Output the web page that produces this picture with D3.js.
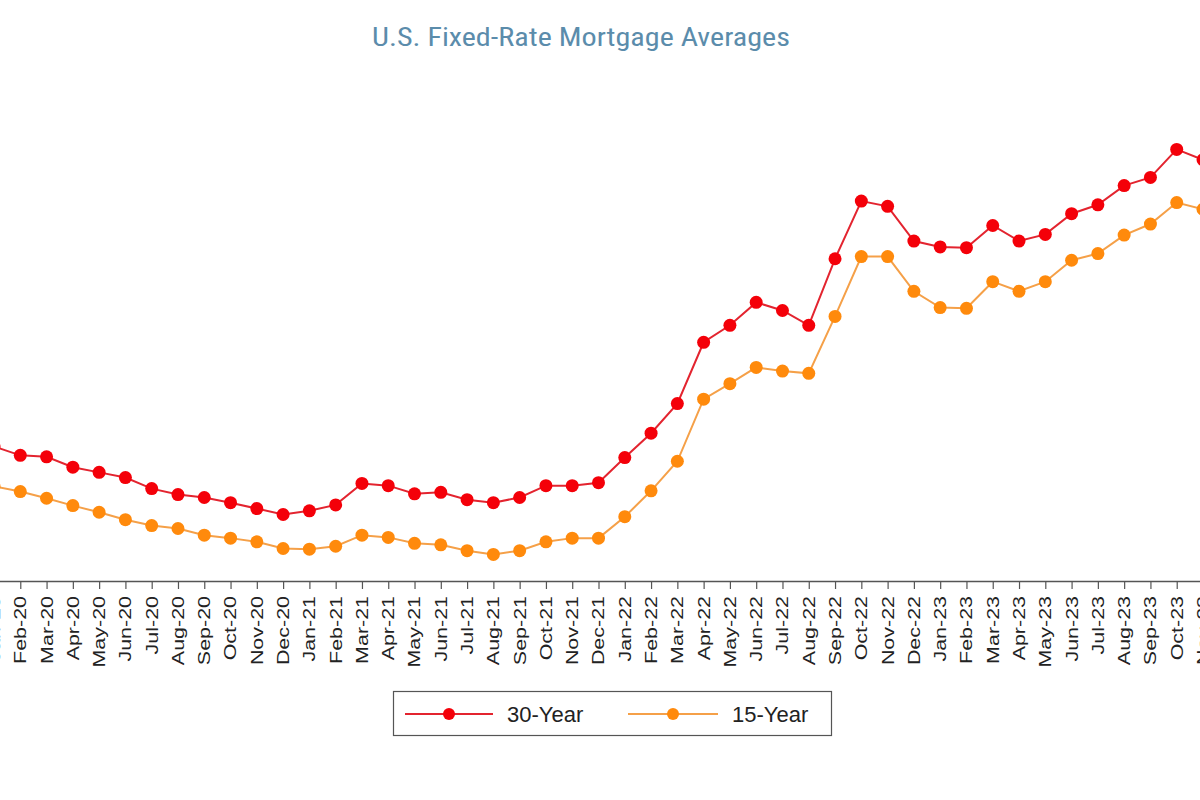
<!DOCTYPE html>
<html>
<head>
<meta charset="utf-8">
<script src="https://cdn.jsdelivr.net/npm/d3@7"></script>
<style>
  html, body { margin: 0; padding: 0; background: #fff; overflow: hidden; }
  svg { display: block; }
</style>
</head>
<body>
<svg id="chart" width="1200" height="800"></svg>
<script>
const months = [
  "Jan-20","Feb-20","Mar-20","Apr-20","May-20","Jun-20","Jul-20","Aug-20","Sep-20","Oct-20","Nov-20","Dec-20",
  "Jan-21","Feb-21","Mar-21","Apr-21","May-21","Jun-21","Jul-21","Aug-21","Sep-21","Oct-21","Nov-21","Dec-21",
  "Jan-22","Feb-22","Mar-22","Apr-22","May-22","Jun-22","Jul-22","Aug-22","Sep-22","Oct-22","Nov-22","Dec-22",
  "Jan-23","Feb-23","Mar-23","Apr-23","May-23","Jun-23","Jul-23","Aug-23","Sep-23","Oct-23","Nov-23"
];
const rate30 = [
  3.60,3.48,3.46,3.32,3.25,3.18,3.03,2.95,2.91,2.84,2.76,2.68,
  2.73,2.81,3.10,3.07,2.96,2.98,2.88,2.84,2.91,3.07,3.07,3.11,
  3.45,3.78,4.18,5.01,5.24,5.55,5.44,5.24,6.14,6.92,6.85,6.38,
  6.30,6.29,6.59,6.38,6.47,6.75,6.87,7.13,7.24,7.62,7.48
];
const rate15 = [
  3.06,2.99,2.90,2.80,2.71,2.61,2.53,2.49,2.40,2.36,2.31,2.22,
  2.21,2.25,2.40,2.37,2.29,2.27,2.19,2.14,2.19,2.31,2.36,2.36,
  2.65,3.00,3.40,4.24,4.45,4.67,4.62,4.59,5.36,6.17,6.17,5.70,
  5.48,5.47,5.83,5.70,5.83,6.12,6.21,6.46,6.61,6.90,6.81
];
const seriesNames = ["30-Year","15-Year"];
const titleText = "U.S. Fixed-Rate Mortgage Averages";

const svg = d3.select("#chart");
const axisY = 581;

const x = d3.scalePoint().domain(months).range([-6, 1203]);
const y = d3.scaleLinear().domain([1.78, 8.0]).range([axisY, 121.3]);

// Title
svg.append("text")
  .attr("x", 581).attr("y", 46)
  .attr("text-anchor", "middle")
  .attr("textLength", 418)
  .attr("lengthAdjust", "spacingAndGlyphs")
  .style("font-family", "'Liberation Sans Narrow','Roboto Condensed','DejaVu Sans Condensed',Roboto,sans-serif")
  .style("font-size", "26px")
  .style("fill", "#5b8cab")
  .text(titleText);

// X axis
const xAxis = d3.axisBottom(x).tickSize(8).tickSizeOuter(0).tickFormat("");
const gx = svg.append("g").attr("transform", `translate(0,${axisY})`).call(xAxis);
gx.select(".domain").attr("stroke", "#555").attr("stroke-width", 1.5);
gx.selectAll(".tick line").attr("stroke", "#555").attr("stroke-width", 1.2);

svg.append("g").selectAll("text.lbl")
  .data(months)
  .join("text")
  .attr("class", "lbl")
  .attr("transform", d => `translate(${x(d)},${axisY + 15}) rotate(-90) scale(1.3,1)`)
  .attr("text-anchor", "end")
  .attr("dy", "0.36em")
  .style("font-family", "'Liberation Sans',Arial,sans-serif")
  .style("font-size", "16.5px")
  .style("fill", "#222")
  .text(d => d);

const series = [
  { name: seriesNames[0], values: rate30, line: "#e3242f", fill: "#f40009" },
  { name: seriesNames[1], values: rate15, line: "#f5a048", fill: "#ff8a0c" }
];

const line = d3.line().x((d, i) => x(months[i])).y(d => y(d));

series.forEach(s => {
  const g = svg.append("g");
  g.append("path")
    .datum(s.values)
    .attr("fill", "none")
    .attr("stroke", s.line)
    .attr("stroke-width", 2)
    .attr("d", line);
  g.selectAll("circle")
    .data(s.values)
    .join("circle")
    .attr("cx", (d, i) => x(months[i]))
    .attr("cy", d => y(d))
    .attr("r", 6.5)
    .attr("fill", s.fill);
});

// Legend
const lg = svg.append("g");
lg.append("rect")
  .attr("x", 393.5).attr("y", 691.5)
  .attr("width", 438).attr("height", 44)
  .attr("fill", "#fff")
  .attr("stroke", "#555")
  .attr("stroke-width", 1.2);

const legendItems = [
  { s: series[0], x0: 405, x1: 493, tx: 507 },
  { s: series[1], x0: 628, x1: 718, tx: 732 }
];
legendItems.forEach(it => {
  const ly = 714;
  lg.append("line")
    .attr("x1", it.x0).attr("x2", it.x1)
    .attr("y1", ly).attr("y2", ly)
    .attr("stroke", it.s.line).attr("stroke-width", 2);
  lg.append("circle")
    .attr("cx", (it.x0 + it.x1) / 2).attr("cy", ly)
    .attr("r", 6).attr("fill", it.s.fill);
  lg.append("text")
    .attr("x", it.tx).attr("y", ly + 8)
    .style("font-family", "'Liberation Sans',Arial,sans-serif")
    .style("font-size", "22px")
    .style("fill", "#222")
    .text(it.s.name);
});
</script>
</body>
</html>
